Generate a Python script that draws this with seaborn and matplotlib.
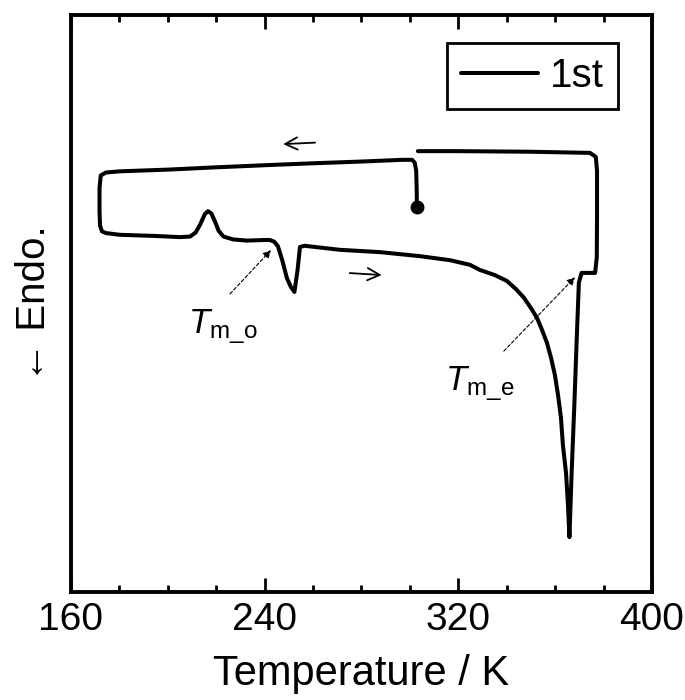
import pandas as pd
import matplotlib
matplotlib.use("Agg")
import matplotlib.pyplot as plt
from matplotlib.ticker import MultipleLocator, NullLocator
import seaborn as sns

# DSC trace (temperature in K, heat flow in arbitrary units)
# path: start at the dot, cool along the top, heat along the bottom, cool back
temp = [302.9, 302.8, 302.6, 302.0, 300.9, 297.1,
        280.0, 260.0, 242.2, 220.0, 200.0, 180.0, 174.5, 172.3,
        171.8, 171.8, 172.0, 172.8, 174.5,
        180.2, 195.0, 205.0, 209.2, 211.5, 213.5, 215.3, 216.6, 218.0, 219.5,
        221.0, 223.0, 227.0, 232.7, 240.0, 242.2, 244.0, 245.5, 247.2, 249.2,
        250.8, 252.3, 253.6, 254.6, 256.5, 271.1, 287.6, 304.2, 316.6, 324.8,
        329.0, 335.2, 340.1, 343.8, 347.1, 350.0, 352.5, 354.6, 356.6, 358.3,
        359.9, 361.2, 362.4, 363.2, 364.5, 365.3, 365.9,
        366.8, 367.9, 368.9, 369.8, 370.9, 376.5,
        377.2, 377.3, 377.3, 376.8, 374.4,
        350.0, 320.0, 303.3]
heat = [66.7, 70.0, 73.0, 74.4, 74.9, 74.9,
        74.6, 74.3, 74.0, 73.6, 73.2, 72.9, 72.7, 72.2,
        70.0, 66.0, 63.5, 62.5, 62.2,
        61.9, 61.7, 61.5, 61.6, 62.3, 63.8, 65.5, 66.0, 65.6, 64.2,
        62.6, 61.6, 61.1, 60.9, 61.0, 61.0, 60.7, 59.9, 57.6, 54.4,
        52.9, 52.0, 55.8, 59.8, 60.0, 59.3, 58.9, 58.2, 57.5, 56.7,
        55.8, 54.9, 53.9, 52.5, 51.0, 49.2, 47.5, 45.4, 43.2, 40.6,
        37.6, 34.1, 30.2, 25.5, 20.6, 15.1, 9.5,
        20.6, 32.1, 43.7, 53.6, 55.3, 55.3,
        58.0, 65.0, 73.0, 75.4, 76.1,
        76.3, 76.4, 76.4]
start_point = (302.9, 66.7)

df = pd.DataFrame({"T": temp, "q": heat})

sns.set_style("ticks")
plt.rcParams["font.family"] = ["Liberation Sans", "DejaVu Sans"]
plt.rcParams["mathtext.fontset"] = "custom"
plt.rcParams["mathtext.rm"] = "Liberation Sans"
plt.rcParams["mathtext.it"] = "Liberation Sans:italic"
plt.rcParams["text.color"] = "black"
plt.rcParams["axes.labelcolor"] = "black"
plt.rcParams["xtick.color"] = "black"
plt.rcParams["ytick.color"] = "black"

fig = plt.figure(figsize=(6.85, 7.0), dpi=100)
ax = fig.add_axes([0.1036, 0.1543, 0.8482, 0.8243])

sns.lineplot(data=df, x="T", y="q", sort=False, estimator=None,
             color="black", lw=2.9, label="1st", ax=ax)
ax.plot(*start_point, "o", color="black", ms=9)

# direction arrows
ax.annotate("", xy=(246.5, 77.6), xytext=(262.0, 77.9),
            arrowprops=dict(arrowstyle="->", color="black", lw=1.3,
                            mutation_scale=22))
ax.annotate("", xy=(289.5, 54.9), xytext=(274.0, 55.3),
            arrowprops=dict(arrowstyle="->", color="black", lw=1.3,
                            mutation_scale=22))

# T_m labels
ax.annotate("", xy=(243.4, 59.6), xytext=(224.9, 51.3),
            arrowprops=dict(arrowstyle="-|>", color="black", lw=0.8,
                            ls=(0, (3, 2)), mutation_scale=12))
ax.text(208.5, 46.0, r"$T_{\mathrm{m\_o}}$", fontsize=25, ha="left", va="center")
ax.annotate("", xy=(369.0, 54.9), xytext=(338.0, 41.4),
            arrowprops=dict(arrowstyle="-|>", color="black", lw=0.8,
                            ls=(0, (3, 2)), mutation_scale=12))
ax.text(314.5, 36.2, r"$T_{\mathrm{m\_e}}$", fontsize=25, ha="left", va="center")

ax.set_xlim(160, 400)
ax.set_ylim(0, 100)
ax.xaxis.set_major_locator(MultipleLocator(80))
ax.xaxis.set_minor_locator(MultipleLocator(20))
ax.yaxis.set_major_locator(NullLocator())
ax.tick_params(axis="x", which="both", direction="in", top=True, bottom=True,
               width=2, labelsize=28, pad=7)
ax.tick_params(axis="x", which="major", length=10)
ax.tick_params(axis="x", which="minor", length=5)
for s in ax.spines.values():
    s.set_linewidth(2.8)
    s.set_color("black")

ax.set_xlabel("Temperature / K", fontsize=30, labelpad=12)
ax.set_ylabel("← Endo.", fontsize=29, labelpad=13)

leg = ax.legend(loc="upper right", bbox_to_anchor=(0.9415, 0.9515),
                borderaxespad=0, fontsize=29, frameon=True, fancybox=False,
                handlelength=1.9, handletextpad=0.3, borderpad=0.35)
leg.get_frame().set_edgecolor("black")
leg.get_frame().set_linewidth(2)
leg.get_frame().set_alpha(1)
for line in leg.get_lines():
    line.set_linewidth(2.9)

fig.savefig("out.png", dpi=100)
